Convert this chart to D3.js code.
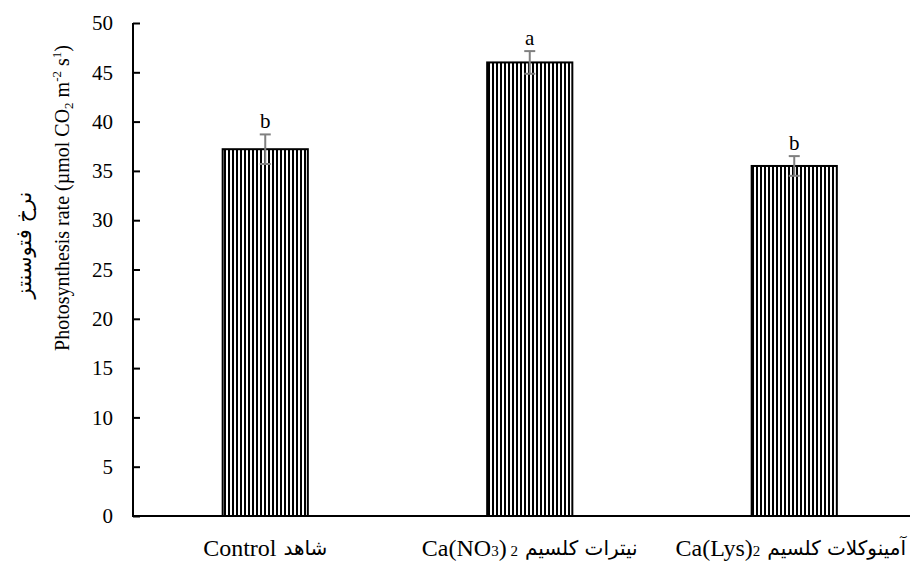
<!DOCTYPE html>
<meta charset="utf-8">
<script src="https://d3js.org/d3.v7.min.js"></script>
<style>
    body { margin: 0; background: #fff; }
    text { font-family: "Liberation Serif", "Times New Roman", "DejaVu Sans", serif; fill: #000; }
</style>
<body>
<div id="chart"></div>
<script>

    // data
    var categories = ["Control", "Ca(NO3)2", "Ca(Lys)2"];
    var means = [37.2, 46.0, 35.5];
    var errors = [1.5, 1.15, 1.0];
    var letters = ["b", "a", "b"];
    var yTicks = [0, 5, 10, 15, 20, 25, 30, 35, 40, 45, 50];

    // label pieces: latin part (with small digits) + persian part
    var labelLatin = [
        [["Control", false]],
        [["Ca(NO", false], ["3", true], [")", false], [" 2", true]],
        [["Ca(Lys)", false], ["2", true]]
    ];
    var labelPersian = ["شاهد", "نیترات کلسیم", "آمینوکلات کلسیم"];

    var W = 910, H = 562;
    var svg = d3.select("#chart").append("svg")
        .attr("width", W)
        .attr("height", H);

    svg.append("rect").attr("width", W).attr("height", H).attr("fill", "#fff");

    var x = d3.scaleBand()
        .domain(categories)
        .range([133, 926.5])
        .paddingInner(0.678)
        .paddingOuter(0.339);

    var y = d3.scaleLinear()
        .domain([0, 50])
        .range([516, 23]);

    // vertical stripe fill
    var pat = svg.append("defs").append("pattern")
        .attr("id", "stripes")
        .attr("patternUnits", "userSpaceOnUse")
        .attr("width", 4)
        .attr("height", 10);
    pat.append("rect").attr("width", 4).attr("height", 10).attr("fill", "#fff");
    pat.append("rect").attr("width", 2).attr("height", 10).attr("fill", "#000");

    // bars
    svg.append("g")
        .selectAll("rect")
        .data(means)
        .enter().append("rect")
        .attr("x", function (d, i) { return x(categories[i]); })
        .attr("y", function (d) { return y(d); })
        .attr("width", x.bandwidth())
        .attr("height", function (d) { return y(0) - y(d); })
        .attr("fill", "url(#stripes)")
        .attr("stroke", "#000")
        .attr("stroke-width", 2);

    // error bars
    var eb = svg.append("g")
        .attr("stroke", "#808080")
        .attr("stroke-width", 2);
    means.forEach(function (m, i) {
        var cx = x(categories[i]) + x.bandwidth() / 2;
        eb.append("line")
            .attr("x1", cx).attr("x2", cx)
            .attr("y1", y(m - errors[i])).attr("y2", y(m + errors[i]));
        [m - errors[i], m + errors[i]].forEach(function (v) {
            eb.append("line")
                .attr("x1", cx - 5.5).attr("x2", cx + 5.5)
                .attr("y1", y(v)).attr("y2", y(v));
        });
        svg.append("text")
            .attr("x", cx)
            .attr("y", y(m + errors[i]) - 6)
            .attr("text-anchor", "middle")
            .style("font-size", "21px")
            .text(letters[i]);
    });

    // y axis
    var yAxis = svg.append("g")
        .attr("transform", "translate(133,0)")
        .call(d3.axisLeft(y).tickValues(yTicks).tickSize(-7).tickPadding(20));
    yAxis.select(".domain").attr("d", "M0," + y(50) + "V" + y(0)).attr("stroke-width", 2);
    yAxis.selectAll(".tick line").attr("stroke-width", 2);
    yAxis.selectAll(".tick text")
        .style("font-size", "21px")
        .style("font-family", "'Liberation Serif', serif");

    // x axis line
    svg.append("line")
        .attr("x1", 132).attr("x2", 926)
        .attr("y1", y(0)).attr("y2", y(0))
        .attr("stroke", "#000")
        .attr("stroke-width", 2);

    // category labels
    categories.forEach(function (c, i) {
        var cx = x(c) + x.bandwidth() / 2;
        var g = svg.append("g");
        var t1 = g.append("text")
            .attr("y", 556)
            .attr("direction", "ltr")
            .style("font-size", "24px");
        labelLatin[i].forEach(function (p) {
            var ts = t1.append("tspan").text(p[0]);
            if (p[1]) ts.style("font-size", "15px");
        });
        var w1 = t1.node().getComputedTextLength();
        var t2 = g.append("text")
            .attr("y", 555)
            .attr("direction", "rtl")
            .attr("text-anchor", "end")
            .style("font-size", "20px")
            .style("font-family", "'DejaVu Sans', sans-serif")
            .text(labelPersian[i]);
        var w2 = t2.node().getComputedTextLength();
        var gap = 7;
        var total = w1 + gap + w2;
        var left = Math.min(cx - total / 2, W - 4 - total);
        t1.attr("x", left);
        t2.attr("x", left + w1 + gap);
    });

    // y axis titles
    var yt = svg.append("text")
        .attr("transform", "translate(69,198) rotate(-90)")
        .attr("text-anchor", "middle")
        .style("font-size", "20px");
    yt.append("tspan").text("Photosynthesis rate (µmol CO");
    yt.append("tspan").text("2").style("font-size", "13px").attr("dy", 4);
    yt.append("tspan").text(" m").attr("dy", -4);
    yt.append("tspan").text("-2").style("font-size", "13px").attr("dy", -8);
    yt.append("tspan").text(" s").attr("dy", 8);
    yt.append("tspan").text("1").style("font-size", "13px").attr("dy", -8);
    yt.append("tspan").text(")").attr("dy", 8);

    svg.append("text")
        .attr("transform", "translate(31,245) rotate(-90)")
        .attr("text-anchor", "middle")
        .attr("direction", "rtl")
        .style("font-size", "21px")
        .style("font-family", "'DejaVu Sans', sans-serif")
        .text("نرخ فتوسنتز");

</script>
</body>
